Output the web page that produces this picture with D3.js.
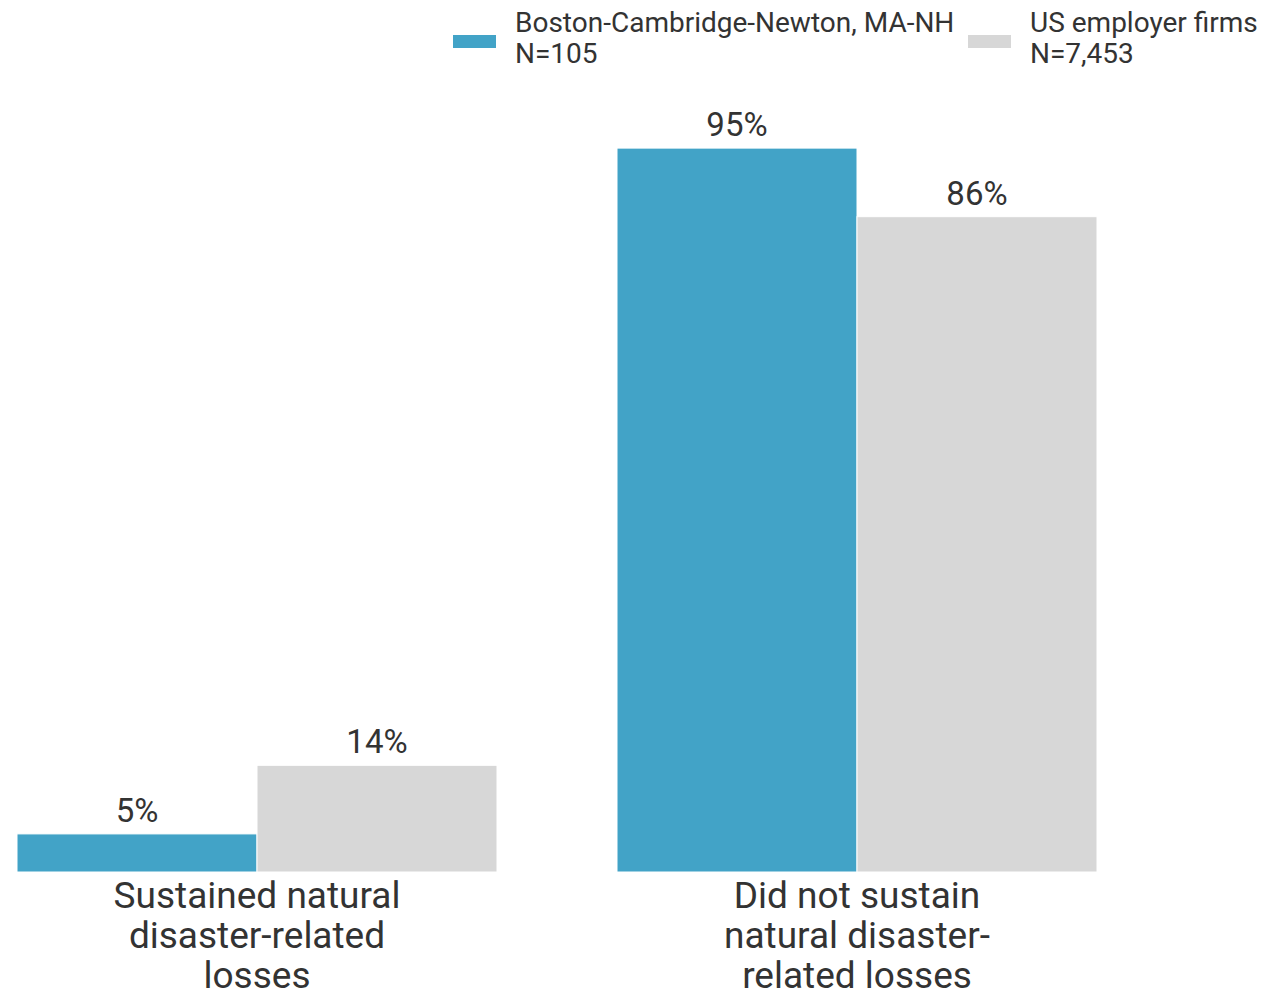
<!DOCTYPE html>
<html>
<head>
<meta charset="utf-8">
<script src="https://cdn.jsdelivr.net/npm/d3@7"></script>
<style>
  html, body { margin: 0; padding: 0; background: #fff; }
  svg { display: block; font-family: Roboto, "Noto Sans", sans-serif; }
</style>
</head>
<body>
<svg id="chart" width="1264" height="994"></svg>
<script>
const categories = ["Sustained natural disaster-related losses", "Did not sustain natural disaster-related losses"];
const categoryLines = [
  ["Sustained natural", "disaster-related", "losses"],
  ["Did not sustain", "natural disaster-", "related losses"]
];
const seriesNames = ["Boston-Cambridge-Newton, MA-NH", "US employer firms"];
const seriesN = ["N=105", "N=7,453"];
const bostonValues = [5, 95];
const usValues = [14, 86];
const colors = ["#42a3c7", "#d7d7d7"];

const svg = d3.select("#chart");
const textColor = "#333333";

const baseline = 872;
const y = d3.scaleLinear().domain([0, 100]).range([baseline, 110]);
const x0 = d3.scaleBand().domain(categories).range([17, 1097]).paddingInner(0.2).paddingOuter(0);
const x1 = d3.scaleBand().domain(seriesNames).range([0, x0.bandwidth()]).padding(0);

const seriesValues = [bostonValues, usValues];
const data = [];
categories.forEach((c, i) => {
  seriesNames.forEach((s, j) => {
    data.push({ cat: c, ci: i, series: s, si: j, value: seriesValues[j][i] });
  });
});

const g = svg.append("g");
g.selectAll("rect.bar").data(data).enter().append("rect")
  .attr("class", "bar")
  .attr("x", d => x0(d.cat) + x1(d.series))
  .attr("y", d => y(d.value))
  .attr("width", x1.bandwidth())
  .attr("height", d => baseline - y(d.value))
  .attr("fill", d => colors[d.si])
  .attr("stroke", "#ffffff")
  .attr("stroke-width", 1);

g.selectAll("text.val").data(data).enter().append("text")
  .attr("class", "val")
  .attr("x", d => x0(d.cat) + x1(d.series) + x1.bandwidth() / 2)
  .attr("y", d => y(d.value) - 12)
  .attr("text-anchor", "middle")
  .attr("font-size", 33)
  .attr("fill", textColor)
  .text(d => d.value + "%");

// category labels
categories.forEach((c, i) => {
  const t = g.append("text")
    .attr("x", x0(c) + x0.bandwidth() / 2)
    .attr("y", baseline + 36)
    .attr("text-anchor", "middle")
    .attr("font-size", 37)
    .attr("fill", textColor);
  categoryLines[i].forEach((line, k) => {
    t.append("tspan")
      .attr("x", x0(c) + x0.bandwidth() / 2)
      .attr("dy", k === 0 ? 0 : 40)
      .text(line);
  });
});

// legend
const legendX = [453, 968];
seriesNames.forEach((s, j) => {
  const lg = svg.append("g").attr("transform", `translate(${legendX[j]},0)`);
  lg.append("rect").attr("x", 0).attr("y", 35).attr("width", 43).attr("height", 13).attr("fill", colors[j]);
  const t = lg.append("text").attr("x", 62).attr("y", 32).attr("font-size", 28).attr("fill", textColor);
  t.append("tspan").attr("x", 62).attr("dy", 0).text(s);
  t.append("tspan").attr("x", 62).attr("dy", 31).text(seriesN[j]);
});
</script>
</body>
</html>
